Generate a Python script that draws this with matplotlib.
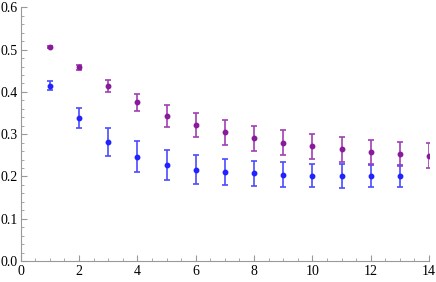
import matplotlib.pyplot as plt
from matplotlib.ticker import MultipleLocator

x_purple = [1, 2, 3, 4, 5, 6, 7, 8, 9, 10, 11, 12, 13, 14]
y_purple = [0.506, 0.458, 0.413, 0.375, 0.344, 0.321, 0.304, 0.290, 0.280, 0.271, 0.264, 0.258, 0.253, 0.249]
e_purple = [0.003, 0.006, 0.014, 0.020, 0.026, 0.028, 0.029, 0.029, 0.029, 0.029, 0.029, 0.029, 0.029, 0.029]

x_blue = [1, 2, 3, 4, 5, 6, 7, 8, 9, 10, 11, 12, 13]
y_blue = [0.415, 0.338, 0.281, 0.247, 0.227, 0.216, 0.211, 0.207, 0.204, 0.202, 0.201, 0.201, 0.200]
e_blue = [0.010, 0.023, 0.033, 0.036, 0.035, 0.034, 0.031, 0.030, 0.029, 0.028, 0.028, 0.027, 0.026]

plt.rcParams['font.family'] = 'Liberation Serif'

fig = plt.figure(figsize=(4.36, 2.82), dpi=100)
ax = fig.add_axes([0.0475, 0.0745, 0.9365, 0.8995])

ax.errorbar(x_blue, y_blue, yerr=e_blue, fmt='o', color='#2222ff', ecolor='#4b4bff',
            markersize=3.2, capsize=2.5, elinewidth=1.2, capthick=1.2)
ax.errorbar(x_purple, y_purple, yerr=e_purple, fmt='o', color='#8a1a9c', ecolor='#a040b0',
            markersize=3.2, capsize=2.5, elinewidth=1.2, capthick=1.2)

ax.set_xlim(0, 14)
ax.set_ylim(0, 0.6)
ax.xaxis.set_major_locator(MultipleLocator(2))
ax.xaxis.set_minor_locator(MultipleLocator(0.5))
ax.yaxis.set_major_locator(MultipleLocator(0.1))
ax.yaxis.set_minor_locator(MultipleLocator(0.02))
ax.yaxis.set_major_formatter(plt.FuncFormatter(lambda v, p: f"{v:.1f}"))

for s in ['top', 'right']:
    ax.spines[s].set_visible(False)
for s in ['left', 'bottom']:
    ax.spines[s].set_color('#999999')
    ax.spines[s].set_linewidth(0.8)
ax.tick_params(which='both', direction='in', color='#999999', labelsize=10)
ax.tick_params(which='major', length=4, width=0.8)
ax.tick_params(which='minor', length=2, width=0.6)
ax.tick_params(axis='x', pad=3)
ax.tick_params(axis='y', pad=2)

fig.savefig("out.png", dpi=100)
